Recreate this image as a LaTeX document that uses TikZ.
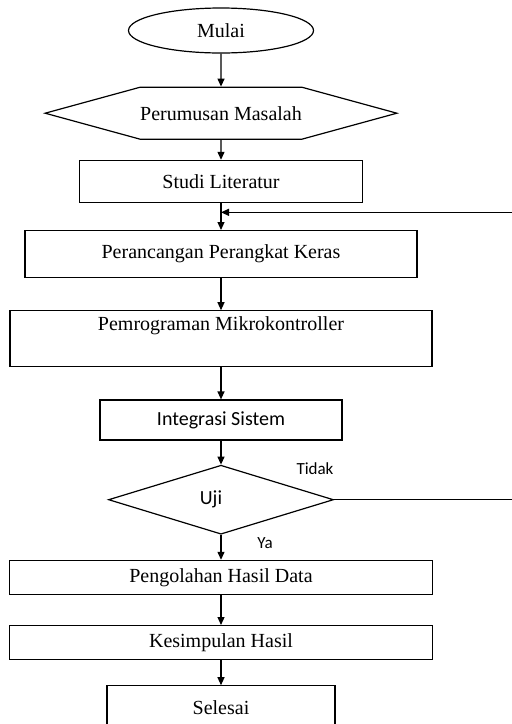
\documentclass[tikz,border=0pt]{standalone}
\usepackage{fontspec}
\setmainfont{Liberation Serif}
\newfontfamily\calibfont{Carlito}
\usetikzlibrary{positioning, arrows.meta, calc, shapes.geometric, shapes.symbols}

\begin{document}
\begin{tikzpicture}[
  term/.style={ellipse, draw, line width=0.6pt, inner sep=0pt,
               minimum width=92.5pt, minimum height=22.5pt, font=\fontsize{10}{12}\selectfont},
  prep/.style={signal, signal to=west and east, signal pointer angle=30.6, draw,
               line width=0.6pt, inner sep=0pt, minimum width=165pt, minimum height=26pt,
               font=\fontsize{10}{12}\selectfont},
  proc/.style={rectangle, draw, line width=0.6pt, inner sep=1pt, align=center,
               font=\fontsize{10}{12}\selectfont},
  sysbox/.style={proc, font=\calibfont\fontsize{10}{12}\selectfont},
  decide/.style={diamond, draw, line width=0.6pt, inner sep=0pt,
                 minimum width=112.5pt, minimum height=34.5pt,
                 font=\calibfont\fontsize{10}{12}\selectfont},
  lbl/.style={inner sep=0pt, font=\calibfont\fontsize{8.5}{10}\selectfont},
  arr/.style={-{Triangle[length=4pt, width=3.5pt]}, line width=0.6pt},
  node distance=14pt
]
  \useasboundingbox (0,0) rectangle (255.5pt,-362pt);

  \node[term] (mulai) at (110.5pt,-15.25pt) {Mulai};
  \node[prep, below=16.5pt of mulai] (rumusan) {Perumusan Masalah};
  \node[proc, below=10pt of rumusan, minimum width=141.5pt, minimum height=21pt] (studi) {Studi Literatur};
  \node[proc, below=13.5pt of studi, minimum width=196pt, minimum height=23.5pt] (rancang) {Perancangan Perangkat Keras};
  \node[proc, below=16pt of rancang, minimum width=211pt, minimum height=28pt] (program) {Pemrograman Mikrokontroller\\\strut};
  \node[sysbox, below=16pt of program, minimum width=121pt, minimum height=20pt] (integrasi) {Integrasi Sistem};
  \node[decide, below=12pt of integrasi] (uji) {\hspace*{-10pt}Uji};
  \node[proc, below=12.5pt of uji, minimum width=211.5pt, minimum height=17pt] (olah) {Pengolahan Hasil Data};
  \node[proc, below=15pt of olah, minimum width=211.5pt, minimum height=17pt] (simpul) {Kesimpulan Hasil};
  \node[proc, below=12.5pt of simpul, minimum width=114pt, minimum height=22pt] (selesai) {Selesai};

  \node[lbl] (tidak) at ([xshift=47pt, yshift=15.75pt]uji.center) {Tidak};
  \node[lbl] (ya) at ([xshift=22pt, yshift=-21.75pt]uji.center) {Ya};

  \coordinate (balik) at ($(studi.south)!0.345!(rancang.north)$);
  \coordinate (rel) at (258pt,0);

  \draw[arr] (mulai) -- (rumusan);
  \draw[arr] (rumusan) -- (studi);
  \draw[arr] (studi) -- (rancang);
  \draw[arr] (rancang) -- (program);
  \draw[arr] (program) -- (integrasi);
  \draw[arr] (integrasi) -- (uji);
  \draw[arr] (uji) -- (olah);
  \draw[arr] (olah) -- (simpul);
  \draw[arr] (simpul) -- (selesai);
  \draw[arr] (uji.east) -- (uji.east -| rel) |- (balik);
\end{tikzpicture}
\end{document}
